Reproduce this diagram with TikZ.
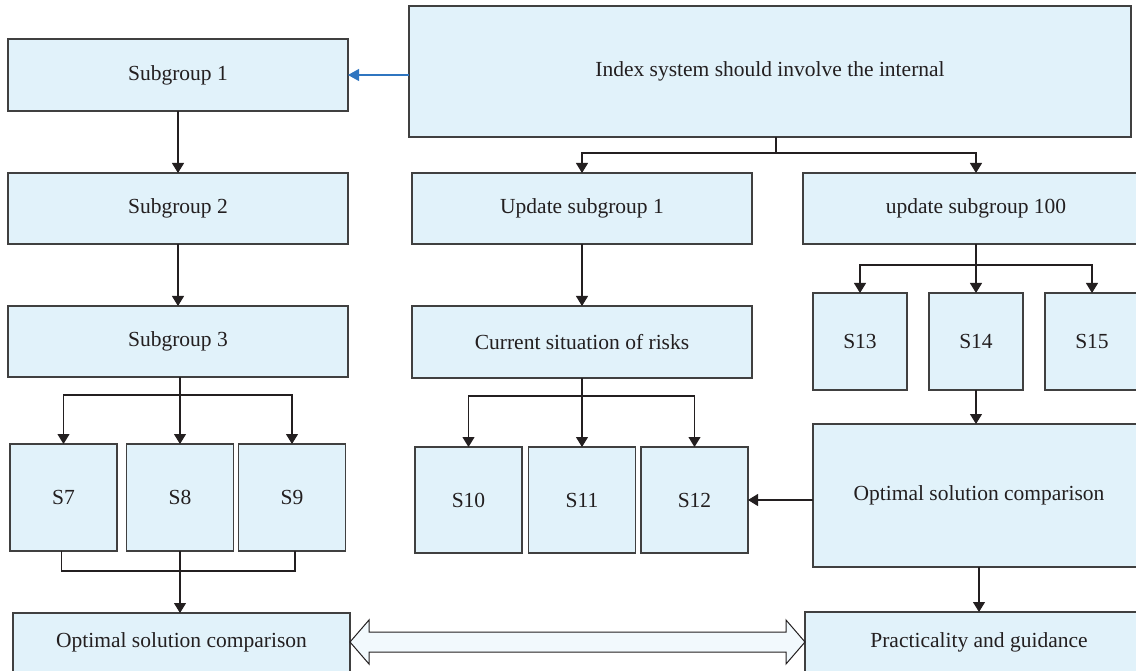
\documentclass[tikz,border=0pt]{standalone}
\usepackage{fontspec}
\setmainfont{Liberation Serif}
\usetikzlibrary{arrows.meta,calc}
\definecolor{boxfill}{HTML}{E1F2FA}
\definecolor{boxline}{HTML}{404040}
\definecolor{ink}{HTML}{231F20}
\definecolor{bluearr}{HTML}{2F75C0}
\definecolor{dblfill}{HTML}{F2F9FD}
\begin{document}
\begin{tikzpicture}[x=1pt,y=-1pt,
  box/.style={draw=boxline, fill=boxfill, line width=1.1pt, inner sep=0pt, outer sep=0pt,
    font=\fontsize{21.5}{25}\selectfont, text=ink},
  conn/.style={draw=ink, line width=1.1pt, -{Triangle[length=10pt,width=12pt]}},
  plain/.style={draw=ink, line width=1.1pt},
  bconn/.style={draw=bluearr, line width=1.1pt, -{Triangle[length=11pt,width=12pt]}},
  dbl/.style={draw=ink, fill=dblfill, line width=1pt, line join=miter}]
\useasboundingbox (0,0) rectangle (1136,671);
\clip (0,0) rectangle (1136,671);
% left column
\node[box, minimum width=340, minimum height=72] (sg1) at (178,75) {Subgroup 1};
\node[box, minimum width=340, minimum height=71] (sg2) at (178,208.5) {Subgroup 2};
\node[box, minimum width=340, minimum height=71] (sg3) at (178,341.5) {Subgroup 3};
\node[box, minimum width=107, minimum height=107] (s7) at (63.5,497.5) {S7};
\node[box, minimum width=107, minimum height=107] (s8) at (180,497.5) {S8};
\node[box, minimum width=107, minimum height=107] (s9) at (292,497.5) {S9};
\node[box, minimum width=337, text height=34, text depth=44, anchor=north] (opt1) at (181.5,613) {Optimal solution comparison};
% top
\node[box, minimum width=722, minimum height=131] (idx) at (770,71.5) {Index system should involve the internal};
\node[box, minimum width=340, minimum height=71] (us1) at (582,208.5) {Update subgroup 1};
\node[box, minimum width=346, minimum height=71] (us100) at (976,208.5) {update subgroup 100};
\node[box, minimum width=340, minimum height=72] (cur) at (582,342) {Current situation of risks};
\node[box, minimum width=107, minimum height=106] (s10) at (468.5,500) {S10};
\node[box, minimum width=107, minimum height=106] (s11) at (582,500) {S11};
\node[box, minimum width=107, minimum height=106] (s12) at (694.5,500) {S12};
\node[box, minimum width=94, minimum height=97] (s13) at (860,341.5) {S13};
\node[box, minimum width=94, minimum height=97] (s14) at (976,341.5) {S14};
\node[box, minimum width=94, minimum height=97] (s15) at (1092,341.5) {S15};
\node[box, minimum width=332, minimum height=143] (opt2) at (979,495.5) {Optimal solution comparison};
\node[box, minimum width=348, text height=35, text depth=44, anchor=north] (prac) at (979,612) {Practicality and guidance};
% connectors
\draw[bconn] (idx.west |- sg1.east) -- (sg1.east);
\draw[conn] (sg1) -- (sg2);
\draw[conn] (sg2) -- (sg3);
\draw[plain] (sg3.south -| s8.north) -- ++(0,18) coordinate (j3);
\draw[conn] (j3) -| (s7.north);
\draw[conn] (j3) -- (s8.north);
\draw[conn] (j3) -| (s9.north);
\draw[plain] ([xshift=-2]s7.south) |- (s8.south |- 0,571) coordinate (j4);
\draw[plain] ([xshift=3]s9.south) |- (j4);
\draw[plain] (s8.south) -- (j4);
\draw[conn] (j4) -- (opt1.north -| j4);
\draw[plain] ([xshift=6]idx.south) -- ++(0,16) coordinate (j1);
\draw[conn] (j1) -| (us1.north);
\draw[conn] (j1) -| (us100.north);
\draw[conn] (us1) -- (cur);
\draw[plain] (cur.south) -- ++(0,18) coordinate (j2);
\draw[conn] (j2) -| (s10.north);
\draw[conn] (j2) -- (s11.north);
\draw[conn] (j2) -| (s12.north);
\draw[plain] (us100.south) -- ++(0,21) coordinate (j5);
\draw[conn] (j5) -| (s13.north);
\draw[conn] (j5) -- (s14.north);
\draw[conn] (j5) -| (s15.north);
\draw[conn] (s14.south) -- (opt2.north -| s14.south);
\draw[conn] (opt2.west |- s12.east) -- (s12.east);
\draw[conn] (opt2) -- (prac);
% double arrow between the two bottom boxes
\coordinate (dl) at (opt1.east |- 0,642);
\coordinate (dr) at (prac.west |- 0,642);
\draw[dbl] (dl) -- ++(19,-22) -- ++(0,12) -- ($(dr)+(-19,-10)$) -- ++(0,-12) -- (dr)
  -- ++(-19,22) -- ++(0,-12) -- ($(dl)+(19,10)$) -- ++(0,12) -- cycle;
\end{tikzpicture}
\end{document}
